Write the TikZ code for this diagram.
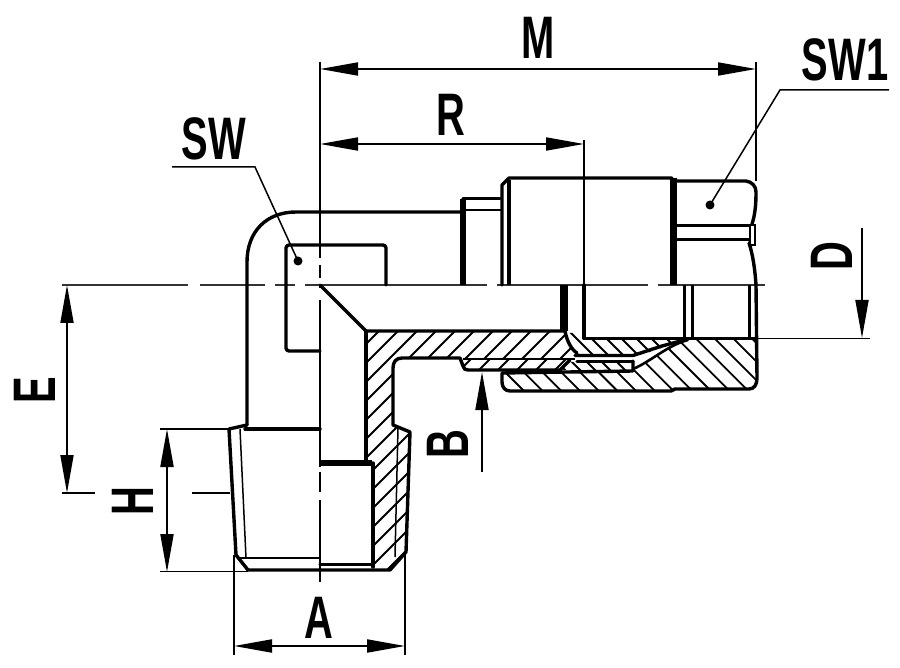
\documentclass[tikz,border=0pt]{standalone}
\usepackage{fontspec}
\setmainfont{Liberation Sans}
\usetikzlibrary{arrows.meta}
\newcommand{\dimtxt}[1]{\scalebox{0.665}[1]{\fontsize{60}{64}\bfseries\selectfont #1}}
\tikzset{
  thickline/.style={line width=3.4pt,line cap=round,line join=round},
  heavyline/.style={line width=7pt,line cap=butt},
  midline/.style={line width=2.6pt,line cap=butt},
  thinline/.style={line width=1.5pt,line cap=butt},
  centreline/.style={line width=1.4pt,color=black!80},
  hatchline/.style={line width=1.8pt},
  dimline/.style={line width=1.8pt,{Triangle[length=38pt,width=13pt]}-{Triangle[length=38pt,width=13pt]}},
  dimone/.style={line width=1.8pt,-{Triangle[length=38pt,width=13pt]}},
  dimlabel/.style={inner sep=0pt,anchor=center},
  leaderdot/.style={circle,fill=black,inner sep=0pt,minimum size=9pt}
}
\begin{document}
\begin{tikzpicture}[x=1pt,y=-1pt]
\useasboundingbox (0,0) rectangle (900,668);
\fill[white] (0,0) rectangle (900,668);

% ---------- hatching ----------
\begin{scope}
\clip (366,331) -- (565,331) .. controls (567,342) and (572,350) .. (577,353) -- (570,359) -- (460,358) -- (402,358) .. controls (396,358) and (393,362) .. (393,368) -- (393,425) -- (410,432) -- (406,552) -- (390,570) -- (376,570) -- (373,565) -- (373,463) -- (367,460) -- cycle;
\foreach \c in {691,710,...,1000} \draw[hatchline] (\c-300,300) -- (\c-620,620);
\end{scope}
\begin{scope}
\clip (463,359) -- (570,359) -- (560,370) -- (463,370) -- cycle;
\foreach \c in {830,849,...,930} \draw[hatchline] (\c-380,380) -- (\c-340,340);
\end{scope}
\begin{scope}
\clip (502,373) -- (633,373) -- (635,368) .. controls (650,362) and (668,345) .. (688,340) -- (757,340) -- (757,378) -- (750,389) -- (675,389) -- (670,391) -- (510,391) -- (502,383) -- cycle;
\foreach \c in {114.3,133,...,430} \draw[hatchline] (\c+330,330) -- (\c+400,400);
\end{scope}
\begin{scope}
\clip (566,333) -- (584,333) -- (584,340) -- (684,340) -- (650,352) -- (635,355) -- (578,355) -- (572,345) -- cycle;
\foreach \c in {223,238,...,340} \draw[hatchline] (\c+330,330) -- (\c+360,360);
\end{scope}
\begin{scope}
\clip (570,362) -- (634,362) -- (634,370) -- (560,370) -- cycle;
\foreach \c in {195,210,...,280} \draw[hatchline] (\c+355,355) -- (\c+375,375);
\end{scope}

% ---------- centre lines and extension lines ----------
\draw[centreline] (62,285) -- (188,285) (200,285) -- (265,285) (275,285) -- (295,285) (305,285) -- (487,285) (497,285) -- (648,285) (658,285) -- (765,285);
\draw[line width=1.8pt] (320,62) -- (320,258) (320,265) -- (320,278) (320,285) -- (320,288) (320,300) -- (320,467) (320,472) -- (320,492) (320,500) -- (320,582);

% ---------- body outline ----------
\draw[thickline] (247,425) -- (247,262) .. controls (247,232) and (266,212) .. (296,212) -- (460,212);
\draw[thickline] (247,425) -- (229,429) -- (236,555) -- (248,570) -- (390,570) -- (406,552) -- (410,432) -- (393,425) -- (393,368) .. controls (393,362) and (396,358) .. (402,358) -- (460,358) -- (463,366) .. controls (464,369) and (465,370) .. (468,370) -- (560,370) -- (570,360);
\draw[thickline] (245,429) -- (320,429);
\draw[thickline,rounded corners=3pt] (320,351) -- (286,351) -- (286,245) -- (386,245) -- (386,285);
\draw[thickline] (320,285) -- (366,331) -- (565,331) .. controls (567,342) and (572,350) .. (577,353);
\draw[thickline] (366,331) -- (366,460);
\draw[heavyline,line width=5.5pt] (320,463) -- (372,463);
\draw[thickline] (373,463) -- (373,567);
\draw[midline] (237,558) -- (320,558);
\draw[thickline] (320,564.5) -- (373,564.5);
\draw[thinline] (240,429) -- (246,558) (398,428) -- (395,557);
\draw[thinline] (236,555) -- (248,570);

% ---------- hex stub ----------
\draw[heavyline,line width=6pt] (463,199) -- (463,285);
\draw[thickline] (463,198.5) -- (500,198.5);
\draw[midline] (462,210) -- (502,210);

% ---------- nut ----------
\draw[thickline] (502,285) -- (502,185) -- (509,178) -- (672,178);
\draw[heavyline,line width=4pt] (509,180) -- (509,285);
\draw[heavyline] (673.5,178) -- (673.5,285);
\draw[thickline] (676,181) -- (746,181) .. controls (752,182) and (756,186) .. (756,192) .. controls (756,205) and (755,215) .. (752,224);
\draw[thickline] (749,243) .. controls (753,255) and (755,270) .. (756,285);
\draw[midline,line width=3pt] (676,226) -- (750,226) (676,240) -- (750,240);
\draw[thinline] (750,225) rectangle (755,245);
\draw[line width=1.8pt] (584,140) -- (584,285);
\draw[heavyline,line width=8pt] (563.5,285) -- (563.5,331);
\draw[thickline] (584,285) -- (584,338.5) -- (755,338.5);
\draw[midline,line width=3pt] (684,285) -- (684,338) (692,285) -- (692,338) (749,285) -- (749,338);
\draw[thickline] (756,285) -- (757,378) .. controls (757,385) and (754,389) .. (749,389) -- (675,389) -- (671,391) -- (510,391) .. controls (505,391) and (502,387) .. (502,382) -- (502,373) -- (633,371) -- (633,361);
\draw[thickline] (575,355.5) -- (633,355.5) -- (662,346) -- (688,339);
\draw[thickline] (577,361.5) -- (633,361.5);
\draw[thinline] (463,359) -- (575,359);
\draw[midline] (633,369) .. controls (650,362) and (668,345) .. (688,340);

% ---------- dimensions ----------
\coordinate (mL) at (320,69);
\coordinate (mR) at (756,69);
\coordinate (rL) at (320,144);
\coordinate (rR) at (584,144);
\coordinate (eT) at (67,285);
\coordinate (eB) at (67,493);
\coordinate (hT) at (167,429);
\coordinate (hB) at (167,572);
\coordinate (aL) at (234,646);
\coordinate (aR) at (405,646);
\coordinate (dS) at (862,228);
\coordinate (dE) at (862,338);
\coordinate (bS) at (482,472);
\coordinate (bE) at (482,372);
\draw[dimline] (mL) -- (mR);
\draw[dimline] (rL) -- (rR);
\draw[dimline] (eT) -- (eB);
\draw[dimline,line width=2pt] (hT) -- (hB);
\draw[dimline,line width=2pt] (aL) -- (aR);
\draw[dimone] (dS) -- (dE);
\draw[dimone] (bS) -- (bE);

\draw[line width=1.8pt] (756,62) -- (756,181);
\draw[thinline] (757,338.5) -- (870,338.5);
\draw[line width=1.8pt] (62,493) -- (95,493) (192,493) -- (230,493);
\draw[line width=1.8pt] (160,429) -- (230,429);
\draw[line width=1.8pt] (160,571.5) -- (248,571.5);
\draw[line width=1.8pt] (234,555) -- (234,655) (405,555) -- (405,655);

% ---------- leaders ----------
\node[leaderdot] (dotsw) at (298,261) {};
\node[leaderdot] (dotswa) at (710,205) {};
\coordinate (swEnd) at (172,167);
\coordinate (swKnee) at (255,167);
\coordinate (swaEnd) at (889,90);
\coordinate (swaKnee) at (780,90);
\draw[thinline] (swEnd) -- (swKnee) -- (dotsw.center);
\draw[thinline] (swaEnd) -- (swaKnee) -- (dotswa.center);

% ---------- labels ----------
\node[dimlabel] (labM) at (538,38) {\dimtxt{M}};
\node[dimlabel] (labR) at (451,115) {\dimtxt{R}};
\node[dimlabel] (labSWa) at (845,60) {\dimtxt{SW1}};
\node[dimlabel] (labSW) at (214,139) {\dimtxt{SW}};
\node[dimlabel,rotate=90] (labD) at (832,256) {\dimtxt{D}};
\node[dimlabel,rotate=90] (labE) at (35,390) {\dimtxt{E}};
\node[dimlabel,rotate=90] (labH) at (133,501) {\dimtxt{H}};
\node[dimlabel,rotate=90] (labB) at (448,444) {\dimtxt{B}};
\node[dimlabel] (labA) at (319,618) {\dimtxt{A}};
\end{tikzpicture}
\end{document}
